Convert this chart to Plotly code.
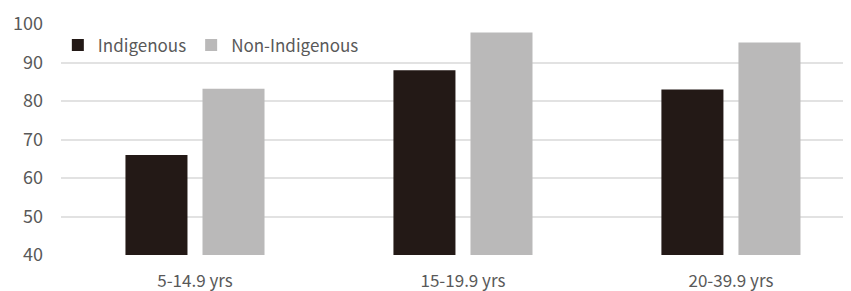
import plotly.graph_objects as go

categories = ["5-14.9 yrs", "15-19.9 yrs", "20-39.9 yrs"]
indigenous = [66, 88, 83]
non_indigenous = [83.2, 97.8, 95.2]
y_ticks = [40, 50, 60, 70, 80, 90, 100]

font_family = "Noto Sans CJK JP, Noto Sans, sans-serif"
label_color = "#595959"

fig = go.Figure()
fig.add_trace(go.Bar(x=categories, y=indigenous, name="Indigenous",
                     marker=dict(color="#231916", line=dict(width=0))))
fig.add_trace(go.Bar(x=categories, y=non_indigenous, name="Non-Indigenous",
                     marker=dict(color="#bab9b9", line=dict(width=0))))

# page body has an 8px margin, so the figure is drawn 8px smaller and offset
fig.update_layout(
    width=843, height=283,
    margin=dict(l=53, r=0, t=16, b=36),
    paper_bgcolor="white", plot_bgcolor="white",
    barmode="group", bargap=0.425, bargroupgap=0.195,
    font=dict(family=font_family, color=label_color, size=17),
    showlegend=True,
    legend=dict(orientation="h", x=-0.004, y=0.985, xanchor="left", yanchor="top",
                font=dict(size=17, color=label_color), bgcolor="rgba(0,0,0,0)",
                itemwidth=30, tracegroupgap=0),
    xaxis=dict(range=[-0.5, 2.448], showgrid=False, showline=False, ticks="",
               automargin=False,
               tickfont=dict(size=17, color=label_color), ticklabelstandoff=14),
    yaxis=dict(range=[40, 100], tickvals=y_ticks, showgrid=True, gridcolor="#e2e2e2",
               gridwidth=1.5, zeroline=False, showline=False, ticks="",
               automargin=False,
               tickfont=dict(size=18, color=label_color), ticklabelstandoff=17),
)

fig.write_html("out.html")
